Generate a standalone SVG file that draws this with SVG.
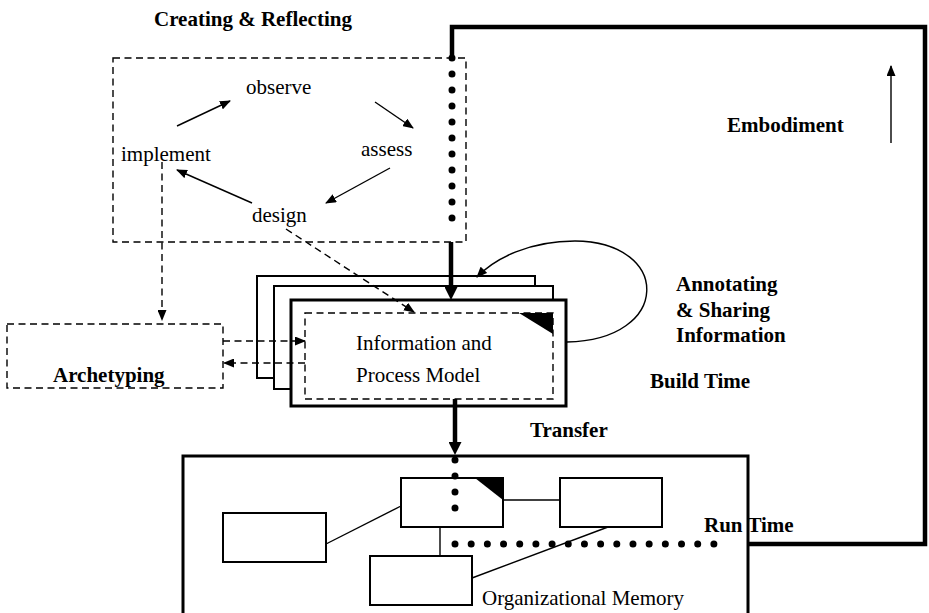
<svg xmlns="http://www.w3.org/2000/svg" width="929" height="613" viewBox="0 0 929 613">
  <style>
    text { font-family: "Liberation Serif", "Times New Roman", serif; font-size: 21px; fill: #000; }
    .b { font-weight: bold; }
    .dash { fill: none; stroke: #000; stroke-width: 1.4; stroke-dasharray: 7 4.5; }
    .thin { fill: none; stroke: #000; stroke-width: 1.4; }
    .box { fill: #fff; stroke: #000; stroke-width: 2; }
    .card { fill: #fff; stroke: #000; stroke-width: 2; }
    .front { fill: #fff; stroke: #000; stroke-width: 3; }
    .heavy { fill: none; stroke: #000; stroke-width: 4.5; }
    .dots { fill: none; stroke: #000; stroke-width: 7; stroke-linecap: round; }
  </style>
  <defs>
    <marker id="ah" markerUnits="userSpaceOnUse" markerWidth="12" markerHeight="9" refX="10" refY="4.5" orient="auto">
      <path d="M0,0 L11,4.5 L0,9 z" fill="#000"/>
    </marker>
    <marker id="ahBig" markerUnits="userSpaceOnUse" markerWidth="14" markerHeight="13" refX="0" refY="6.5" orient="auto">
      <path d="M0,0 L13,6.5 L0,13 z" fill="#000"/>
    </marker>
  </defs>

  <!-- Creating & Reflecting cycle -->
  <g id="creating-reflecting">
    <rect class="dash" x="113" y="58" width="353" height="184"/>
    <text class="b" x="154" y="26">Creating &amp; Reflecting</text>
    <text x="246" y="94">observe</text>
    <text x="121" y="161">implement</text>
    <text x="361" y="156">assess</text>
    <text x="252" y="222">design</text>
  </g>

  <!-- Archetyping -->
  <g id="archetyping">
    <rect class="dash" x="7" y="324" width="216" height="64"/>
    <text class="b" x="53" y="382">Archetyping</text>
  </g>

  <!-- Information and Process Model stack -->
  <g id="model">
    <rect class="card" x="257" y="276" width="278" height="102"/>
    <rect class="card" x="274" y="286" width="279" height="103"/>
    <rect class="front" x="291" y="300" width="275" height="106"/>
    <rect class="dash" x="305" y="313" width="248" height="86"/>
    <path d="M519,313 L553,313 L553,334 z" fill="#000"/>
    <text x="356" y="350">Information and</text>
    <text x="356" y="382">Process Model</text>
  </g>

  <!-- Organizational Memory -->
  <g id="org-memory">
    <rect class="front" x="183" y="456" width="565" height="170"/>
    <rect class="box" x="223" y="513" width="103" height="49"/>
    <rect class="box" x="401" y="478" width="102" height="49"/>
    <path d="M475,478 L503,478 L503,500 z" fill="#000"/>
    <rect class="box" x="560" y="478" width="102" height="49"/>
    <rect class="box" x="370" y="556" width="102" height="49"/>
    <text x="482" y="605">Organizational Memory</text>
  </g>

  <!-- free labels -->
  <g id="labels">
    <text class="b" x="727" y="132">Embodiment</text>
    <text class="b" x="676" y="291">Annotating</text>
    <text class="b" x="676" y="317">&amp; Sharing</text>
    <text class="b" x="676" y="342">Information</text>
    <text class="b" x="650" y="388">Build Time</text>
    <text class="b" x="530" y="437">Transfer</text>
    <text class="b" x="704" y="532">Run Time</text>
  </g>

  <!-- connectors -->
  <g id="connectors">
    <!-- cycle -->
    <line class="thin" x1="177" y1="126" x2="230" y2="101" marker-end="url(#ah)"/>
    <line class="thin" x1="375" y1="102" x2="413" y2="128" marker-end="url(#ah)"/>
    <line class="thin" x1="390" y1="168" x2="326" y2="203" marker-end="url(#ah)"/>
    <line class="thin" x1="252" y1="203" x2="177" y2="170" marker-end="url(#ah)"/>

    <!-- dashed links -->
    <line class="dash" x1="162" y1="162" x2="162" y2="320" marker-end="url(#ah)"/>
    <line class="dash" x1="286" y1="229" x2="414" y2="312" marker-end="url(#ah)"/>
    <line class="dash" x1="223" y1="341" x2="305" y2="341" marker-end="url(#ah)"/>
    <line class="dash" x1="305" y1="363" x2="224" y2="363" marker-end="url(#ah)"/>

    <!-- annotating loop -->
    <path class="thin" stroke-width="2" d="M567,342 C672,340 672,242 575,241 C530,241 495,258 477,277" marker-end="url(#ah)"/>

    <!-- embodiment bracket and arrow -->
    <polyline class="heavy" points="452,58 452,27 925,27 925,544 748,544"/>
    <line class="thin" stroke-width="2.5" x1="891" y1="143" x2="891" y2="66" marker-end="url(#ah)"/>

    <!-- build-time path -->
    <line class="dots" x1="452" y1="58" x2="452" y2="234" stroke-dasharray="0 16"/>
    <line class="heavy" x1="451" y1="242" x2="451" y2="287" marker-end="url(#ahBig)"/>
    <line class="heavy" x1="455" y1="399" x2="455" y2="442" marker-end="url(#ahBig)"/>

    <!-- run-time path -->
    <line class="dots" x1="455" y1="460" x2="455" y2="524" stroke-dasharray="0 16"/>
    <line class="dots" x1="455" y1="544" x2="730" y2="544" stroke-dasharray="0 16.18"/>

    <!-- memory links -->
    <line class="thin" x1="326" y1="544" x2="401" y2="506"/>
    <line class="thin" x1="503" y1="500" x2="560" y2="500"/>
    <line class="thin" x1="440" y1="527" x2="440" y2="556"/>
    <line class="thin" x1="472" y1="578" x2="608" y2="527"/>
  </g>
</svg>
